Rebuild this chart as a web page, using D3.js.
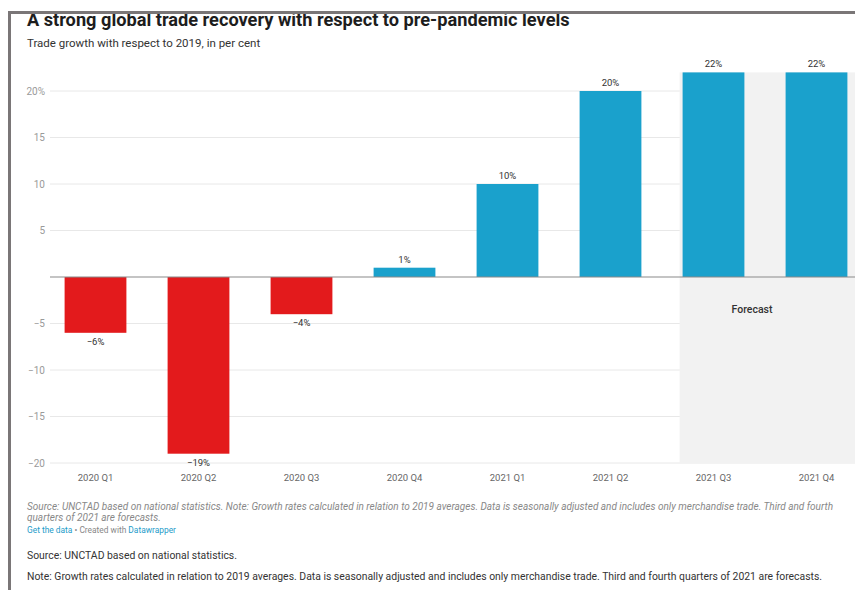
<!DOCTYPE html>
<html>
<head>
<meta charset="utf-8">
<script src="https://cdn.jsdelivr.net/npm/d3@7"></script>
<style>
  html, body { margin: 0; padding: 0; background: #fff; overflow: hidden; }
  svg { display: block; font-family: Roboto, "Noto Sans", sans-serif; }
</style>
</head>
<body>
<div id="chart"></div>
<script>
const QUARTERS = ['2020 Q1', '2020 Q2', '2020 Q3', '2020 Q4', '2021 Q1', '2021 Q2', '2021 Q3', '2021 Q4'];
const GROWTH = [-6, -19, -4, 1, 10, 20, 22, 22];
const FORECAST_FROM = '2021 Q3';
const Y_TICKS = [-20, -15, -10, -5, 5, 10, 15, 20];

const TITLE = 'A strong global trade recovery with respect to pre-pandemic levels';
const SUBTITLE = 'Trade growth with respect to 2019, in per cent';
const NOTE_LINES = [
  'Source: UNCTAD based on national statistics. Note: Growth rates calculated in relation to 2019 averages. Data is seasonally adjusted and includes only merchandise trade. Third and fourth',
  'quarters of 2021 are forecasts.',
];
const SOURCE = 'Source: UNCTAD based on national statistics.';
const NOTE = 'Note: Growth rates calculated in relation to 2019 averages. Data is seasonally adjusted and includes only merchandise trade. Third and fourth quarters of 2021 are forecasts.';

const RED = '#e31a1c';
const BLUE = '#1aa1cc';

const width = 855, height = 590;

const svg = d3.select('#chart').append('svg')
  .attr('width', width)
  .attr('height', height);

// scales: plot runs past the right edge, like the cropped screenshot
const x = d3.scaleBand()
  .domain(QUARTERS)
  .range([44, 868])
  .paddingInner(0.4)
  .paddingOuter(0.2);

const y = d3.scaleLinear()
  .domain([-20, 20])
  .range([463, 91]);

const plotLeft = 50, plotRight = 900;

// grid lines
const grid = svg.append('g');
grid.selectAll('line')
  .data(Y_TICKS)
  .enter().append('line')
  .attr('x1', plotLeft).attr('x2', plotRight)
  .attr('y1', d => y(d)).attr('y2', d => y(d))
  .attr('stroke', '#e8e8e8')
  .attr('stroke-width', 1);

// y tick labels
svg.append('g').selectAll('text')
  .data(Y_TICKS)
  .enter().append('text')
  .attr('x', 45)
  .attr('y', d => y(d) + 3.5)
  .attr('text-anchor', 'end')
  .attr('font-size', 10)
  .attr('fill', '#9a9a9a')
  .text(d => (d < 0 ? '\u2212' + Math.abs(d) : d) + (d === 20 ? '%' : ''));

// forecast range highlight
const fx = x(FORECAST_FROM) - 3;
svg.append('rect')
  .attr('x', fx)
  .attr('y', y(22))
  .attr('width', plotRight - fx)
  .attr('height', y(-20) - y(22))
  .attr('fill', '#f2f2f2');

svg.append('text')
  .attr('x', 752)
  .attr('y', 313)
  .attr('text-anchor', 'middle')
  .attr('font-size', 10.5)
  .attr('font-weight', 500)
  .attr('fill', '#333')
  .text('Forecast');

// bars
svg.append('g').selectAll('rect')
  .data(QUARTERS)
  .enter().append('rect')
  .attr('x', d => x(d))
  .attr('width', x.bandwidth())
  .attr('y', (d, i) => y(Math.max(0, GROWTH[i])))
  .attr('height', (d, i) => Math.abs(y(GROWTH[i]) - y(0)))
  .attr('fill', (d, i) => GROWTH[i] < 0 ? RED : BLUE);

// zero baseline
svg.append('line')
  .attr('x1', plotLeft).attr('x2', plotRight)
  .attr('y1', y(0)).attr('y2', y(0))
  .attr('stroke', '#8a8a8a')
  .attr('stroke-width', 1.2);

// value labels
svg.append('g').selectAll('text')
  .data(QUARTERS)
  .enter().append('text')
  .attr('x', d => x(d) + x.bandwidth() / 2)
  .attr('y', (d, i) => GROWTH[i] < 0 ? y(GROWTH[i]) + 12 : y(GROWTH[i]) - 5)
  .attr('text-anchor', 'middle')
  .attr('font-size', 9.5)
  .attr('fill', '#333')
  .text((d, i) => (GROWTH[i] < 0 ? '\u2212' + Math.abs(GROWTH[i]) : GROWTH[i]) + '%');

// x labels
svg.append('g').selectAll('text')
  .data(QUARTERS)
  .enter().append('text')
  .attr('x', d => x(d) + x.bandwidth() / 2)
  .attr('y', 481)
  .attr('text-anchor', 'middle')
  .attr('font-size', 9.5)
  .attr('fill', '#666')
  .text(d => d);

// title + subtitle
svg.append('text')
  .attr('x', 27).attr('y', 26)
  .attr('font-size', 18.2)
  .attr('font-weight', 700)
  .attr('fill', '#1d1d1d')
  .text(TITLE);

svg.append('text')
  .attr('x', 27).attr('y', 47)
  .attr('font-size', 11.5)
  .attr('fill', '#333')
  .text(SUBTITLE);

// datawrapper notes
svg.append('g').selectAll('text')
  .data(NOTE_LINES)
  .enter().append('text')
  .attr('x', 27)
  .attr('y', (d, i) => 510 + i * 11)
  .attr('font-size', 10)
  .attr('font-style', 'italic')
  .attr('fill', '#888')
  .text(d => d);

const credit = svg.append('text')
  .attr('x', 27).attr('y', 533)
  .attr('font-size', 8.4);
credit.append('tspan').attr('fill', '#1d9bc9').text('Get the data');
credit.append('tspan').attr('fill', '#888').text(' \u2022 Created with ');
credit.append('tspan').attr('fill', '#1d9bc9').text('Datawrapper');

svg.append('text')
  .attr('x', 27).attr('y', 559)
  .attr('font-size', 10.4)
  .attr('fill', '#333')
  .text(SOURCE);

svg.append('text')
  .attr('x', 27).attr('y', 580)
  .attr('font-size', 10.4)
  .attr('fill', '#333')
  .text(NOTE);

// screenshot frame (top and left gray edge)
svg.append('rect')
  .attr('x', 8).attr('y', 11)
  .attr('width', width).attr('height', 3)
  .attr('fill', '#7a7677');
svg.append('rect')
  .attr('x', 8).attr('y', 11)
  .attr('width', 3).attr('height', height)
  .attr('fill', '#7a7677');
</script>
</body>
</html>
